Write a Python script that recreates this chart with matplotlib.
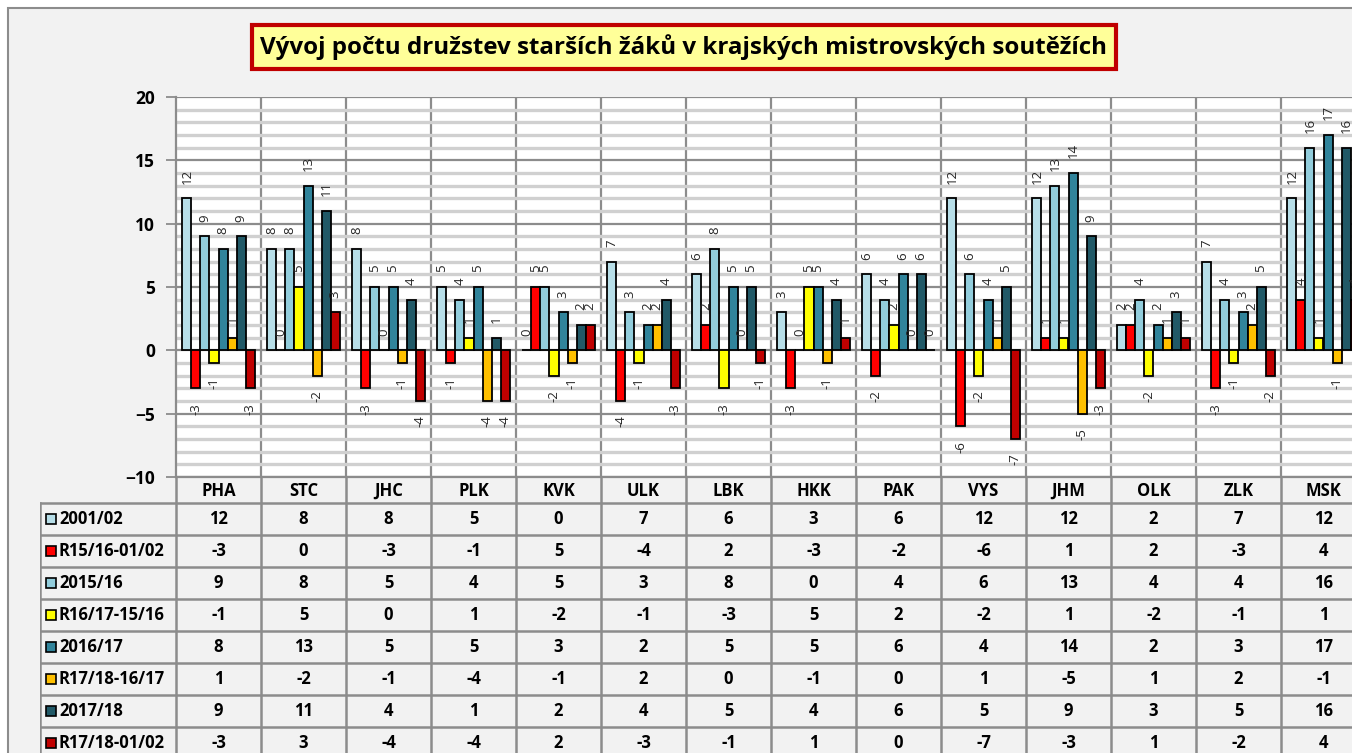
import matplotlib
matplotlib.use("Agg")
import matplotlib.pyplot as plt
from matplotlib.patches import Rectangle
import numpy as np

plt.rcParams['font.family'] = ['Open Sans', 'DejaVu Sans']

# data
kraje = ["PHA", "STC", "JHC", "PLK", "KVK", "ULK", "LBK", "HKK", "PAK", "VYS", "JHM", "OLK", "ZLK", "MSK"]
serie = ["2001/02", "R15/16-01/02", "2015/16", "R16/17-15/16",
         "2016/17", "R17/18-16/17", "2017/18", "R17/18-01/02"]
v2001 = [12, 8, 8, 5, 0, 7, 6, 3, 6, 12, 12, 2, 7, 12]
r1516 = [-3, 0, -3, -1, 5, -4, 2, -3, -2, -6, 1, 2, -3, 4]
v2015 = [9, 8, 5, 4, 5, 3, 8, 0, 4, 6, 13, 4, 4, 16]
r1617 = [-1, 5, 0, 1, -2, -1, -3, 5, 2, -2, 1, -2, -1, 1]
v2016 = [8, 13, 5, 5, 3, 2, 5, 5, 6, 4, 14, 2, 3, 17]
r1718 = [1, -2, -1, -4, -1, 2, 0, -1, 0, 1, -5, 1, 2, -1]
v2017 = [9, 11, 4, 1, 2, 4, 5, 4, 6, 5, 9, 3, 5, 16]
r0102 = [-3, 3, -4, -4, 2, -3, -1, 1, 0, -7, -3, 1, -2, 4]
hodnoty = [v2001, r1516, v2015, r1617, v2016, r1718, v2017, r0102]
barvy = ["#B7DEE8", "#FF0000", "#92CDDC", "#FFFF00",
         "#31849B", "#FFC000", "#215967", "#C00000"]

W, H = 1352, 753
fig = plt.figure(figsize=(W / 100, H / 100), dpi=100)
fig.patch.set_facecolor("white")

# pozadi grafu
fig.patches.append(Rectangle((8 / W, -0.1), 1.2, (H - 8) / H + 0.1, transform=fig.transFigure,
                             facecolor="#F2F2F2", edgecolor="#8C8C8C", lw=1.5, zorder=-5))

# oblast grafu (presahuje pravy okraj jako v originale)
left, right, top, bottom = 176, 1366, 97, 477
ax = fig.add_axes([left / W, (H - bottom) / H, (right - left) / W, (bottom - top) / H])
ax.set_facecolor("white")
n = len(kraje)
ax.set_xlim(-0.5, n - 0.5)
ax.set_ylim(-10, 20)

ax.set_yticks(np.arange(-10, 21, 5))
ax.set_yticks(np.arange(-10, 21, 1), minor=True)
ax.grid(which="minor", axis="y", color="#D0D0D0", lw=2.4, zorder=0)
ax.grid(which="major", axis="y", color="#8C8C8C", lw=1.6, zorder=0)
for b in np.arange(0.5, n - 0.5, 1):
    ax.axvline(b, color="#8C8C8C", lw=1.6, zorder=0)
ax.tick_params(axis="y", which="major", length=7, width=1.3, color="#8C8C8C", pad=8,
               labelsize=12.5)
ax.tick_params(axis="y", which="minor", length=0)
for lab in ax.get_yticklabels():
    lab.set_fontweight("bold")
ax.set_xticks([])
for s in ["top", "right"]:
    ax.spines[s].set_visible(False)
for s in ["left", "bottom"]:
    ax.spines[s].set_color("#8C8C8C")
    ax.spines[s].set_linewidth(1.6)

bw = 0.106
x = np.arange(n)
for j, (vals, c) in enumerate(zip(hodnoty, barvy)):
    pos = x + (j - 3.5) * bw
    ax.bar(pos, vals, width=bw, color=c, edgecolor="black", lw=1.3, zorder=3)
    for px, v in zip(pos, vals):
        ax.annotate(str(v), (px, v), xytext=(0, 10.5 if v >= 0 else -10.5),
                    textcoords="offset points", rotation=90, ha="center",
                    va="bottom" if v >= 0 else "top", fontsize=9.5, color="#262626",
                    zorder=4, annotation_clip=False)

# nadpis
fig.text(684 / W, 1 - 47 / H, "Vývoj počtu družstev starších žáků v krajských mistrovských soutěžích",
         ha="center", va="center", fontsize=17.4, fontweight="bold", color="black",
         bbox=dict(boxstyle="square,pad=0.36", facecolor="#FFFF99", edgecolor="#C00000", lw=3))

# tabulka s daty
tl = 40
tax = fig.add_axes([tl / W, (H - 790) / H, (right - tl) / W, (790 - bottom) / H])
tax.set_axis_off()
cw = (right - left) / n
hdr = (left - tl) / cw
tax.set_xlim(-0.5 - hdr, n - 0.5)
tax.set_ylim(790 - bottom, 0)
head_h, row_h = 26, 32
gc = "#8C8C8C"
fs = 12
for i, k in enumerate(kraje):
    tax.text(i, head_h / 2 + 1, k, ha="center", va="center", fontsize=fs, fontweight="bold")
ymax = head_h + row_h * len(serie)
tax.plot([-0.5 - hdr, n - 0.5], [head_h, head_h], color=gc, lw=1.8)
for r in range(len(serie)):
    yb = head_h + row_h * (r + 1)
    tax.plot([-0.5 - hdr, n - 0.5], [yb, yb], color=gc, lw=1.8)
for b in np.arange(-0.5, n, 1):
    tax.plot([b, b], [0, ymax], color=gc, lw=1.8)
tax.plot([-0.5 - hdr, -0.5 - hdr], [head_h, ymax], color=gc, lw=1.8)

for r, (name, vals, c) in enumerate(zip(serie, hodnoty, barvy)):
    yc = head_h + row_h * r + row_h / 2
    kx = -0.5 - hdr + 6 / cw
    tax.add_patch(Rectangle((kx, yc - 5), 10 / cw, 10, facecolor=c, edgecolor="black",
                            lw=1.2, zorder=3))
    tax.text(kx + 13 / cw, yc, name, ha="left", va="center", fontsize=fs, fontweight="bold")
    for i, v in enumerate(vals):
        tax.text(i, yc, str(v), ha="center", va="center", fontsize=fs, fontweight="bold")

fig.savefig("out.png", dpi=100)
